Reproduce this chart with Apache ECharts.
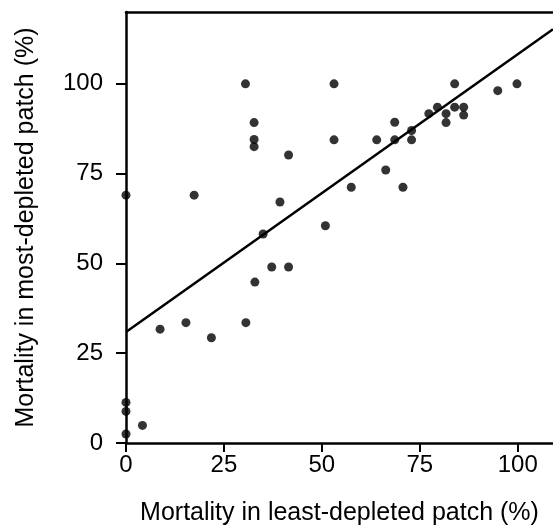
<!DOCTYPE html>
<html lang="en">
  <head>
    <meta charset="UTF-8" />
    <title>Mortality</title>
    <script src="https://cdn.jsdelivr.net/npm/echarts@6/dist/echarts.min.js"></script>
    <style>
      html, body { margin: 0; padding: 0; background: #fff; }
      #chart { width: 553px; height: 531px; }
    </style>
  </head>
  <body>
    <div id="chart"></div>
    <script>
      // least-depleted patch mortality (x) vs most-depleted patch mortality (y)
      const leastDepleted = [
        0, 0, 0, 0, 4.2, 8.7, 15.3, 17.4, 21.8, 30.6, 30.5, 32.7, 32.7, 32.7,
        32.9, 35, 37.2, 39.3, 41.5, 41.5, 50.9, 53.1, 53.1, 57.5, 64, 66.3,
        68.6, 68.6, 70.7, 72.9, 72.9, 77.3, 79.5, 81.7, 81.7, 83.9, 83.9, 86.2,
        86.2, 94.9, 99.8
      ];
      const mostDepleted = [
        69, 11.3, 8.8, 2.5, 4.9, 31.7, 33.5, 69, 29.3, 33.5, 100, 89.2, 84.5,
        82.5, 44.8, 58.2, 49, 67.1, 80.2, 49, 60.5, 100, 84.4, 71.2, 84.4, 76,
        89.3, 84.4, 71.2, 87, 84.4, 91.7, 93.5, 91.7, 89.2, 100, 93.5, 93.5,
        91.3, 98.1, 100
      ];
      // regression line end points
      const fitX = [0, 109];
      const fitY = [30.9, 115.2];
      const ticks = [0, 25, 50, 75, 100];

      const font = "'Liberation Sans', Arial, sans-serif";
      const chart = echarts.init(document.getElementById("chart"));

      chart.setOption({
        animation: false,
        grid: { left: 126, right: 0, top: 12, bottom: 86 },
        xAxis: [
          {
            type: "value",
            min: 0,
            max: 109,
            interval: 25,
            name: "Mortality in least-depleted patch (%)",
            nameLocation: "middle",
            nameGap: 58,
            nameTextStyle: { color: "#000", fontSize: 25, fontFamily: font },
            axisLine: { show: true, onZero: false, lineStyle: { color: "#000", width: 2.5 } },
            axisTick: { show: true, length: 9, lineStyle: { color: "#000", width: 2 } },
            axisLabel: {
              color: "#000",
              fontSize: 24,
              fontFamily: font,
              margin: 10,
              showMaxLabel: false,
              formatter: v => (ticks.includes(v) ? String(v) : "")
            },
            splitLine: { show: false }
          },
          {
            type: "value",
            position: "top",
            min: 0,
            max: 109,
            axisLine: { show: true, onZero: false, lineStyle: { color: "#000", width: 2.5 } },
            axisTick: { show: false },
            axisLabel: { show: false },
            splitLine: { show: false }
          }
        ],
        yAxis: {
          type: "value",
          min: 0,
          max: 120,
          interval: 25,
          name: "Mortality in most-depleted patch (%)",
          nameLocation: "middle",
          nameGap: 87,
          nameTextStyle: { color: "#000", fontSize: 25, fontFamily: font },
          axisLine: { show: true, onZero: false, lineStyle: { color: "#000", width: 2.5 } },
          axisTick: { show: true, length: 10, lineStyle: { color: "#000", width: 2 } },
          axisLabel: {
            color: "#000",
            fontSize: 24,
            fontFamily: font,
            margin: 23,
            showMaxLabel: false,
            formatter: v => (ticks.includes(v) ? String(v) : "")
          },
          splitLine: { show: false }
        },
        series: [
          {
            type: "line",
            data: fitX.map((x, i) => [x, fitY[i]]),
            showSymbol: false,
            lineStyle: { color: "#000", width: 2.5 },
            z: 2
          },
          {
            type: "scatter",
            data: leastDepleted.map((x, i) => [x, mostDepleted[i]]),
            symbol: "circle",
            symbolSize: 9,
            itemStyle: { color: "#000" },
            z: 3
          }
        ]
      });
    </script>
  </body>
</html>
